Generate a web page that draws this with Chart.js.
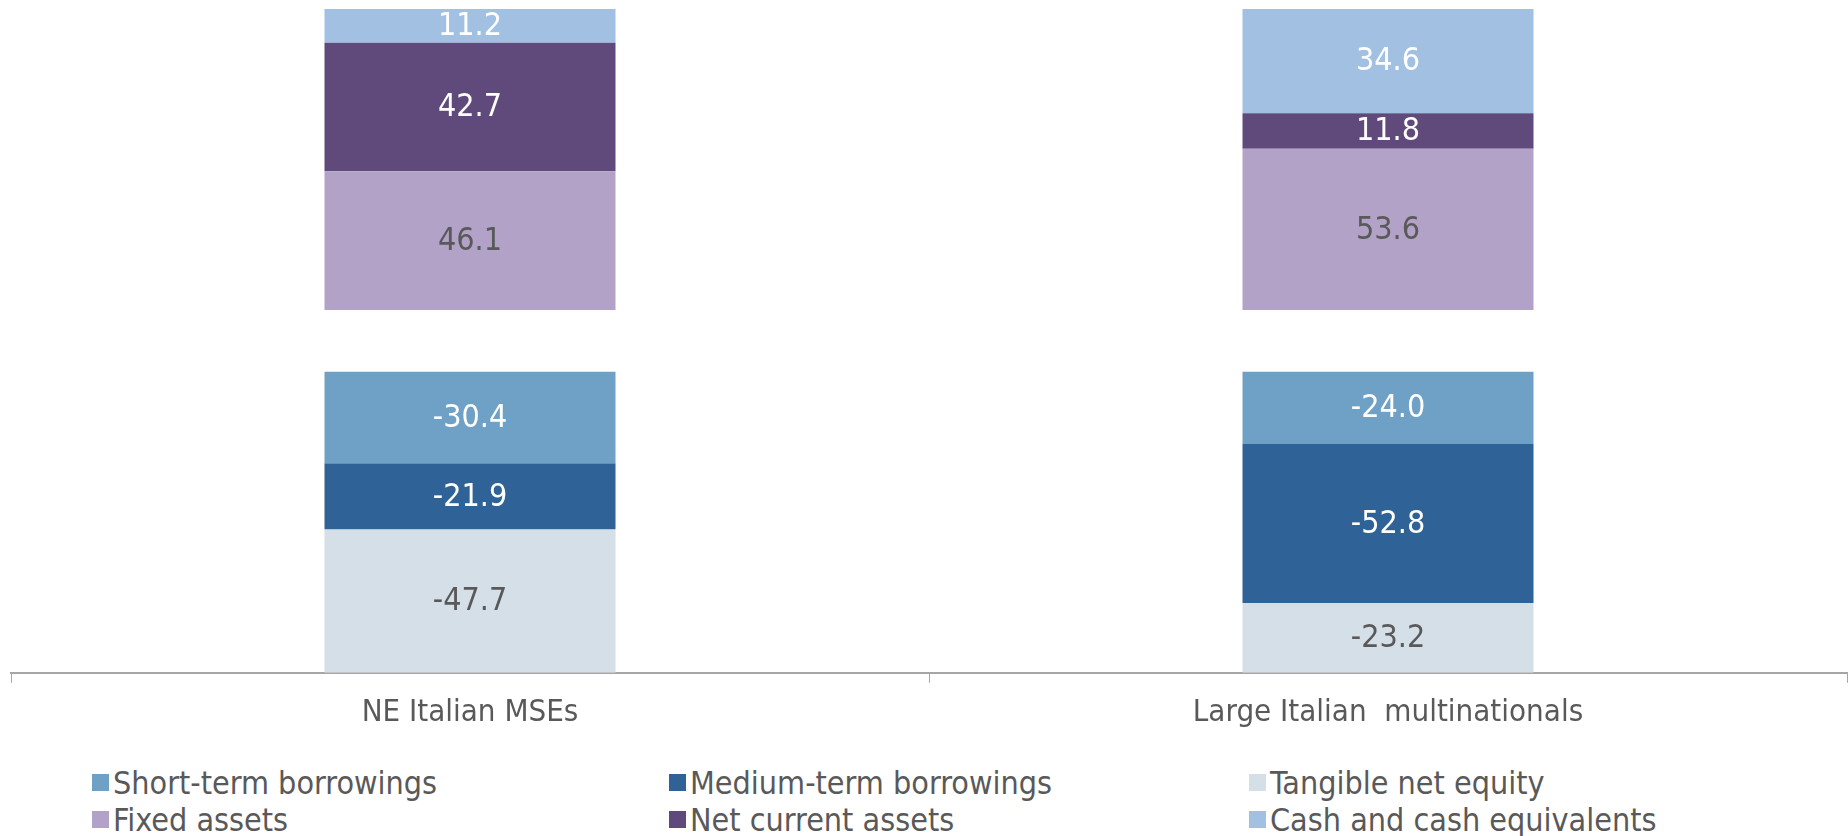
<!DOCTYPE html>
<html>
<head>
<meta charset="utf-8">
<script src="https://cdn.jsdelivr.net/npm/chart.js@4.4.1/dist/chart.umd.min.js"></script>
<style>
  body { margin: 0; background: #fff; }
  #wrap { position: relative; width: 1848px; height: 836px; overflow: hidden; }
  #chart { position: absolute; left: 0; top: 0; }
  #legend {
    position: absolute; left: 92px; top: 764px;
    display: grid; grid-template-columns: 577px 580px 500px; row-gap: 0px;
    font-family: "DejaVu Sans Condensed", "Liberation Sans Narrow", sans-serif;
    font-size: 32px; color: #595959;
  }
  .item { display: flex; align-items: center; height: 37px; white-space: nowrap; }
  .box { width: 17px; height: 17px; margin-right: 4px; flex: none; }
</style>
</head>
<body>
<div id="wrap">
  <canvas id="chart" width="1848" height="744"></canvas>
  <div id="legend"></div>
</div>
<script>
// categories and series (percent of total)
const categories = ['NE Italian MSEs', 'Large Italian  multinationals'];
const shortTerm = [-30.4, -24.0];
const mediumTerm = [-21.9, -52.8];
const tangibleEquity = [-47.7, -23.2];
const fixedAssets = [46.1, 53.6];
const netCurrent = [42.7, 11.8];
const cash = [11.2, 34.6];

// empty band kept between liabilities and assets
const GAP = 20.5;

const FONT = '"DejaVu Sans Condensed", "Liberation Sans Narrow", sans-serif';

const valueLabels = {
  id: 'valueLabels',
  afterDatasetsDraw(chart) {
    const ctx = chart.ctx;
    ctx.save();
    ctx.font = '32px ' + FONT;
    ctx.textAlign = 'center';
    ctx.textBaseline = 'middle';
    chart.data.datasets.forEach((ds, i) => {
      if (ds.spacer) return;
      const meta = chart.getDatasetMeta(i);
      meta.data.forEach((bar, j) => {
        const p = bar.getProps(['x', 'y', 'base'], true);
        ctx.fillStyle = ds.labelColor;
        ctx.fillText(ds.data[j].toFixed(1), p.x, (p.y + p.base) / 2 + 1);
      });
    });
    ctx.restore();
  }
};

const chart = new Chart(document.getElementById('chart'), {
  type: 'bar',
  data: {
    labels: categories,
    datasets: [
      { label: '', data: categories.map(() => GAP), backgroundColor: 'rgba(0,0,0,0)', spacer: true },
      { label: 'Short-term borrowings', data: shortTerm, backgroundColor: '#6FA1C6', labelColor: '#fff' },
      { label: 'Medium-term borrowings', data: mediumTerm, backgroundColor: '#2F6397', labelColor: '#fff' },
      { label: 'Tangible net equity', data: tangibleEquity, backgroundColor: '#D5DFE8', labelColor: '#595959' },
      { label: 'Fixed assets', data: fixedAssets, backgroundColor: '#B2A2C7', labelColor: '#595959' },
      { label: 'Net current assets', data: netCurrent, backgroundColor: '#604A7B', labelColor: '#fff' },
      { label: 'Cash and cash equivalents', data: cash, backgroundColor: '#A2C0E2', labelColor: '#fff' }
    ]
  },
  options: {
    responsive: false,
    animation: false,
    events: [],
    categoryPercentage: 1,
    barPercentage: 0.317,
    layout: { padding: { left: 11, right: 1, top: 9, bottom: 0 } },
    plugins: { legend: { display: false }, tooltip: { enabled: false } },
    scales: {
      x: {
        stacked: true,
        grid: { offset: true, drawOnChartArea: false, drawTicks: true, tickLength: 10, color: '#A6A6A6' },
        border: { color: '#A6A6A6', width: 2 },
        ticks: { color: '#595959', padding: 12, font: { family: FONT, size: 31 } }
      },
      y: {
        display: false,
        stacked: true,
        min: -100,
        max: 100 + GAP
      }
    }
  },
  plugins: [valueLabels]
});

// legend in three columns, short-term / medium-term / equity on the first row
const legend = document.getElementById('legend');
chart.data.datasets.filter(ds => !ds.spacer).forEach(ds => {
  legend.innerHTML += `<div class="item"><span class="box" style="background:${ds.backgroundColor}"></span>${ds.label}</div>`;
});
</script>
</body>
</html>
